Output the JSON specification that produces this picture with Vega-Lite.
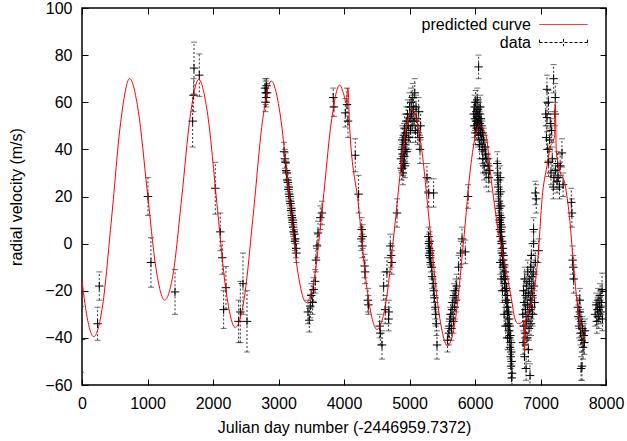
{
"$schema":"https://vega.github.io/schema/vega-lite/v6.json",
"width":524,"height":377,
"autosize":{"type":"none"},
"padding":{"left":82,"top":8,"right":21,"bottom":56},
"background":"white",
"config":{
 "font":"Liberation Sans",
 "view":{"stroke":"#000","strokeWidth":1.5},
 "axis":{"labelFont":"Liberation Sans","labelFontSize":16,"labelColor":"#000","titleFont":"Liberation Sans","titleFontSize":16,"titleFontWeight":"normal","titleColor":"#000","grid":false,"domain":false,"tickColor":"#000","tickSize":-6,"tickWidth":1,"labelFlush":false,"labelOverlap":false,"format":"d"},
 "legend":{"labelFont":"Liberation Sans","labelFontSize":16,"labelColor":"#000"}
},
"datasets":{
"curve":[
{"x":0,"y":-16},{"x":90,"y":-33},{"x":177,"y":-39.5},{"x":314,"y":-26.4},{"x":452,"y":10.9},{"x":590,"y":51.4},{"x":727,"y":70},{"x":860,"y":56.2},{"x":994,"y":23},{"x":1128,"y":-10.2},{"x":1261,"y":-24},{"x":1391,"y":-12.8},{"x":1521,"y":19.1},{"x":1651,"y":53.8},{"x":1781,"y":69.7},{"x":1921,"y":54.3},{"x":2060,"y":17},{"x":2200,"y":-20.2},{"x":2340,"y":-35.6},{"x":2478,"y":-23},{"x":2615,"y":12.5},{"x":2752,"y":51.2},{"x":2890,"y":69},{"x":3023,"y":55.3},{"x":3157,"y":22},{"x":3290,"y":-11.2},{"x":3424,"y":-25},{"x":3551,"y":-13.9},{"x":3678,"y":17.5},{"x":3806,"y":51.6},{"x":3933,"y":67.3},{"x":4000,"y":63},{"x":4030,"y":60},{"x":4061,"y":66},{"x":4085,"y":50},{"x":4218,"y":17},{"x":4361,"y":-21.2},{"x":4504,"y":-36.4},{"x":4638,"y":-25.2},{"x":4772,"y":6.6},{"x":4906,"y":41.1},{"x":5040,"y":57},{"x":5175,"y":42.3},{"x":5311,"y":6.8},{"x":5446,"y":-28.7},{"x":5582,"y":-43.4},{"x":5701,"y":-32.2},{"x":5821,"y":-0.4},{"x":5940,"y":34.1},{"x":6060,"y":50},{"x":6157,"y":47},{"x":6260,"y":24.4},{"x":6351,"y":6},{"x":6463,"y":-9.5},{"x":6565,"y":-25},{"x":6610,"y":-32},{"x":6660,"y":-34},{"x":6710,"y":-33.5},{"x":6742,"y":-33},{"x":6757,"y":-46},{"x":6770,"y":-33},{"x":6800,"y":-30},{"x":6860,"y":-25},{"x":6921,"y":-16.5},{"x":6971,"y":-2.4},{"x":7023,"y":18.8},{"x":7099,"y":33},{"x":7150,"y":41},{"x":7200,"y":44},{"x":7215,"y":46},{"x":7226,"y":59},{"x":7240,"y":40},{"x":7277,"y":33},{"x":7379,"y":24.4},{"x":7440,"y":12},{"x":7506,"y":-9.5},{"x":7582,"y":-30.7},{"x":7684,"y":-41.3}
],
"obs":[
{"x":-15,"y":-40.6,"e":14},{"x":238,"y":-34,"e":7},{"x":264,"y":-18,"e":6},
{"x":1007,"y":20,"e":8},{"x":1053,"y":-8,"e":10.5},{"x":1420,"y":-20.5,"e":9.5},
{"x":1689,"y":52,"e":11},{"x":1704,"y":63,"e":7},{"x":1710,"y":74.5,"e":11},{"x":1791,"y":71.5,"e":9},
{"x":2035,"y":23.5,"e":11},{"x":2111,"y":5,"e":8},{"x":2142,"y":-6,"e":7},{"x":2198,"y":-18.7,"e":9},{"x":2162,"y":-28,"e":8},
{"x":2391,"y":-33,"e":9},{"x":2417,"y":-29,"e":13},{"x":2458,"y":-17,"e":13},{"x":2519,"y":-33,"e":13},
{"x":2795,"y":66,"e":4},{"x":2805,"y":64,"e":5},{"x":2812,"y":62,"e":4},{"x":2800,"y":60,"e":4},{"x":2825,"y":64,"e":4},{"x":2818,"y":67,"e":3},
{"x":3085,"y":39,"e":4},{"x":3098,"y":36,"e":4},{"x":3107,"y":34.5,"e":4},{"x":3116,"y":31,"e":4},{"x":3125,"y":30,"e":4},{"x":3134,"y":27,"e":4},{"x":3143,"y":26,"e":4},{"x":3152,"y":23,"e":4},{"x":3157,"y":24,"e":4},{"x":3161,"y":21,"e":4},{"x":3170,"y":20,"e":4},{"x":3175,"y":18,"e":4},{"x":3184,"y":17,"e":4},{"x":3193,"y":14,"e":4},{"x":3197,"y":15,"e":4},{"x":3202,"y":12,"e":4},{"x":3206,"y":11,"e":4},{"x":3215,"y":9,"e":4},{"x":3220,"y":10,"e":4},{"x":3224,"y":7,"e":4},{"x":3233,"y":5,"e":4},{"x":3242,"y":4,"e":4},{"x":3251,"y":1,"e":4},{"x":3256,"y":2,"e":4},{"x":3269,"y":-2,"e":4},{"x":3274,"y":-4,"e":4},
{"x":3450,"y":-29,"e":5},{"x":3470,"y":-32.5,"e":5},{"x":3485,"y":-26.5,"e":5},{"x":3500,"y":-22,"e":5},{"x":3520,"y":-25,"e":5},{"x":3536,"y":-19.5,"e":5},{"x":3560,"y":-16,"e":5},{"x":3572,"y":-7,"e":5},{"x":3588,"y":-1,"e":5},{"x":3603,"y":4.5,"e":5},{"x":3638,"y":11,"e":5},{"x":3664,"y":13,"e":5},
{"x":3835,"y":62,"e":4},{"x":3845,"y":58,"e":4},{"x":4020,"y":55.5,"e":6},{"x":4046,"y":59,"e":7},{"x":4061,"y":52,"e":7},
{"x":4172,"y":37.5,"e":7},{"x":4223,"y":21,"e":8},{"x":4264,"y":2,"e":5},{"x":4270,"y":6,"e":5},{"x":4280,"y":-1,"e":5},{"x":4285,"y":3,"e":5},{"x":4315,"y":-9.5,"e":5},{"x":4322,"y":-12,"e":5},{"x":4366,"y":-24,"e":5},{"x":4372,"y":-26,"e":4},
{"x":4545,"y":-35,"e":5},{"x":4554,"y":-38,"e":5},{"x":4580,"y":-43,"e":6},{"x":4605,"y":-18,"e":6},{"x":4630,"y":-28,"e":6},{"x":4656,"y":-12,"e":6},{"x":4681,"y":-32,"e":5},{"x":4685,"y":-29,"e":5},{"x":4707,"y":-1,"e":5},{"x":4720,"y":-5,"e":5},{"x":4730,"y":-8,"e":5},{"x":4809,"y":13,"e":6},
{"x":4870,"y":36,"e":5},{"x":4880,"y":32,"e":5},{"x":4885,"y":40,"e":5},{"x":4890,"y":44,"e":6},{"x":4895,"y":38,"e":5},{"x":4900,"y":30,"e":5},{"x":4905,"y":34,"e":5},{"x":4910,"y":42,"e":5},{"x":4915,"y":46,"e":5},{"x":4920,"y":37,"e":5},{"x":4925,"y":49,"e":6},{"x":4930,"y":33,"e":5},{"x":4935,"y":40,"e":5},{"x":4940,"y":44,"e":5},{"x":4950,"y":52,"e":6},{"x":4955,"y":47,"e":5},{"x":4960,"y":39,"e":5},{"x":4970,"y":55,"e":6},{"x":4980,"y":50,"e":5},{"x":4990,"y":45,"e":5},{"x":5000,"y":58,"e":6},{"x":5010,"y":53,"e":5},{"x":5015,"y":48,"e":5},{"x":5025,"y":60,"e":6},{"x":5035,"y":55,"e":5},{"x":5040,"y":50,"e":5},{"x":5050,"y":62,"e":6},{"x":5060,"y":57,"e":5},{"x":5070,"y":52,"e":5},{"x":5080,"y":64,"e":6},{"x":5090,"y":48,"e":5},{"x":5100,"y":58,"e":5},{"x":5110,"y":53,"e":5},{"x":5125,"y":47,"e":5},{"x":5140,"y":56,"e":6},{"x":5150,"y":45,"e":5},{"x":5170,"y":50,"e":6},{"x":5160,"y":40,"e":6},
{"x":5267,"y":28,"e":6},{"x":5293,"y":21.5,"e":6},{"x":5368,"y":21.5,"e":6},
{"x":5290,"y":3,"e":4},{"x":5295,"y":0,"e":4},{"x":5300,"y":-2,"e":4},{"x":5305,"y":1,"e":4},{"x":5310,"y":-4,"e":4},{"x":5315,"y":-6,"e":4},{"x":5320,"y":-3,"e":4},{"x":5325,"y":-8,"e":4},{"x":5302,"y":-5,"e":4},{"x":5340,"y":-10,"e":5},{"x":5345,"y":-14,"e":5},{"x":5360,"y":-17,"e":5},{"x":5370,"y":-20,"e":5},{"x":5380,"y":-23,"e":5},{"x":5395,"y":-27,"e":5},{"x":5400,"y":-30,"e":5},{"x":5410,"y":-34,"e":5},{"x":5420,"y":-43,"e":6},
{"x":5580,"y":-41,"e":5},{"x":5600,"y":-38,"e":5},{"x":5610,"y":-35,"e":5},{"x":5620,"y":-32,"e":5},{"x":5630,"y":-30,"e":5},{"x":5640,"y":-36,"e":5},{"x":5650,"y":-28,"e":5},{"x":5660,"y":-25,"e":5},{"x":5670,"y":-33,"e":5},{"x":5680,"y":-22,"e":5},{"x":5690,"y":-27,"e":5},{"x":5700,"y":-20,"e":5},{"x":5710,"y":-24,"e":5},{"x":5720,"y":-18,"e":5},
{"x":5750,"y":-10,"e":5},{"x":5780,"y":-4,"e":5},{"x":5802,"y":2,"e":5},{"x":5852,"y":-3.5,"e":5},{"x":5893,"y":20,"e":5},
{"x":6055,"y":75,"e":5},
{"x":5980,"y":55,"e":5},{"x":5990,"y":50,"e":5},{"x":5995,"y":58,"e":5},{"x":6000,"y":53,"e":5},{"x":6005,"y":47,"e":5},{"x":6010,"y":60,"e":5},{"x":6015,"y":52,"e":5},{"x":6020,"y":56,"e":5},{"x":6025,"y":49,"e":5},{"x":6030,"y":54,"e":5},{"x":6035,"y":61,"e":5},{"x":6040,"y":51,"e":5},{"x":6045,"y":57,"e":5},{"x":6050,"y":46,"e":5},{"x":6057,"y":53,"e":5},{"x":6060,"y":49,"e":5},{"x":6065,"y":55,"e":5},{"x":6070,"y":42,"e":6},{"x":6075,"y":51,"e":5},{"x":6080,"y":58,"e":5},{"x":6085,"y":47,"e":5},{"x":6090,"y":53,"e":5},{"x":6095,"y":44,"e":5},{"x":6100,"y":50,"e":5},{"x":6110,"y":40,"e":6},{"x":6115,"y":47,"e":5},{"x":6120,"y":36,"e":6},{"x":6130,"y":44,"e":5},{"x":6140,"y":33,"e":6},{"x":6150,"y":41,"e":5},{"x":6160,"y":38,"e":5},{"x":6170,"y":30,"e":6},{"x":6180,"y":36,"e":5},{"x":6200,"y":33,"e":5},{"x":6210,"y":28,"e":6},{"x":6220,"y":31,"e":5},
{"x":6340,"y":34,"e":5},{"x":6345,"y":30,"e":5},{"x":6350,"y":27,"e":5},{"x":6355,"y":24,"e":5},{"x":6360,"y":21,"e":5},{"x":6365,"y":18,"e":5},{"x":6370,"y":15,"e":5},{"x":6375,"y":12,"e":5},{"x":6380,"y":9,"e":5},{"x":6385,"y":28,"e":5},{"x":6390,"y":22,"e":5},{"x":6395,"y":16,"e":5},{"x":6400,"y":11,"e":5},{"x":6405,"y":7,"e":5},
{"x":6373,"y":10,"e":5},{"x":6395,"y":8,"e":5},{"x":6380,"y":6,"e":5},{"x":6400,"y":5,"e":5},{"x":6390,"y":3,"e":5},{"x":6415,"y":1,"e":5},{"x":6405,"y":0,"e":5},{"x":6425,"y":-2,"e":5},{"x":6410,"y":-4,"e":5},{"x":6435,"y":-5,"e":5},{"x":6420,"y":-7,"e":5},{"x":6445,"y":-9,"e":5},{"x":6430,"y":-10,"e":5},{"x":6455,"y":-12,"e":5},{"x":6440,"y":-14,"e":5},{"x":6465,"y":-15,"e":5},{"x":6450,"y":-17,"e":5},{"x":6480,"y":-19,"e":5},{"x":6460,"y":-20,"e":5},{"x":6490,"y":-22,"e":5},{"x":6470,"y":-24,"e":5},{"x":6500,"y":-25,"e":5},{"x":6485,"y":-27,"e":5},{"x":6510,"y":-29,"e":5},{"x":6495,"y":-30,"e":5},{"x":6520,"y":-32,"e":5},{"x":6505,"y":-34,"e":5},{"x":6530,"y":-35,"e":5},{"x":6515,"y":-37,"e":5},{"x":6540,"y":-39,"e":5},{"x":6525,"y":-40,"e":5},{"x":6550,"y":-42,"e":5},{"x":6535,"y":-44,"e":5},{"x":6555,"y":-46,"e":5},{"x":6545,"y":-48,"e":5},{"x":6560,"y":-50,"e":5},{"x":6550,"y":-52,"e":5},{"x":6565,"y":-55,"e":5},{"x":6560,"y":-57,"e":5},{"x":6385,"y":-8,"e":5},{"x":6400,"y":-15,"e":5},{"x":6420,"y":-20,"e":5},{"x":6445,"y":-30,"e":5},{"x":6470,"y":-35,"e":5},{"x":6495,"y":-40,"e":5},
{"x":6730,"y":-30,"e":5},{"x":6735,"y":-42,"e":5},{"x":6740,"y":-20,"e":5},{"x":6745,"y":-35,"e":5},{"x":6750,"y":-25,"e":5},{"x":6755,"y":-48,"e":5},{"x":6760,"y":-15,"e":5},{"x":6765,"y":-38,"e":5},{"x":6770,"y":-28,"e":5},{"x":6775,"y":-22,"e":5},{"x":6780,"y":-53,"e":5},{"x":6785,"y":-33,"e":5},{"x":6790,"y":-18,"e":5},{"x":6795,"y":-40,"e":5},{"x":6800,"y":-26,"e":5},{"x":6805,"y":-12,"e":5},{"x":6810,"y":-31,"e":5},{"x":6815,"y":-45,"e":5},{"x":6820,"y":-21,"e":5},{"x":6825,"y":-36,"e":5},{"x":6830,"y":-16,"e":5},{"x":6835,"y":-28,"e":5},{"x":6840,"y":-56,"e":5},{"x":6845,"y":-24,"e":5},{"x":6850,"y":-10,"e":5},{"x":6855,"y":-34,"e":5},{"x":6860,"y":-19,"e":5},{"x":6865,"y":-27,"e":5},{"x":6870,"y":-14,"e":5},{"x":6875,"y":-22,"e":5},{"x":6880,"y":-30,"e":5},{"x":6890,"y":-12,"e":5},{"x":6900,"y":-18,"e":5},{"x":6910,"y":-25,"e":5},{"x":6920,"y":-8,"e":5},
{"x":6921,"y":21.5,"e":5},{"x":6935,"y":19,"e":6},{"x":6895,"y":6,"e":5},{"x":6971,"y":-3,"e":5},{"x":6860,"y":-5,"e":5},{"x":6895,"y":0,"e":5},
{"x":7200,"y":70,"e":6},{"x":7099,"y":65.5,"e":6},{"x":7226,"y":62,"e":6},{"x":7080,"y":55,"e":5},{"x":7099,"y":53.5,"e":6},{"x":7150,"y":51,"e":5},{"x":7170,"y":48,"e":5},{"x":7124,"y":34.5,"e":6},{"x":7110,"y":40,"e":5},{"x":7140,"y":44,"e":5},{"x":7160,"y":30,"e":5},{"x":7205,"y":28,"e":5},{"x":7252,"y":26.5,"e":5},{"x":7328,"y":38.5,"e":6},{"x":7300,"y":33,"e":5},{"x":7195,"y":24,"e":5},{"x":7345,"y":25,"e":5},{"x":7180,"y":36,"e":5},{"x":7230,"y":31,"e":5},{"x":7260,"y":34,"e":5},{"x":7090,"y":45,"e":5},{"x":7120,"y":60,"e":5},{"x":7220,"y":55,"e":5},{"x":7270,"y":28,"e":5},{"x":7290,"y":24,"e":5},
{"x":7470,"y":17.5,"e":6},{"x":7480,"y":13,"e":6},{"x":7490,"y":-7,"e":6},{"x":7506,"y":-15,"e":6},{"x":7500,"y":-10,"e":5},
{"x":7570,"y":-27,"e":5},{"x":7580,"y":-31,"e":5},{"x":7590,"y":-35,"e":5},{"x":7600,"y":-29,"e":5},{"x":7610,"y":-38,"e":5},{"x":7620,"y":-33,"e":5},{"x":7630,"y":-41,"e":5},{"x":7640,"y":-36,"e":5},{"x":7650,"y":-44,"e":5},{"x":7660,"y":-39,"e":5},{"x":7670,"y":-42,"e":5},{"x":7634,"y":-52,"e":6},{"x":7620,"y":-53,"e":5},{"x":7600,"y":-24,"e":5},{"x":7680,"y":-37,"e":5},
{"x":7835,"y":-30,"e":5},{"x":7850,"y":-26,"e":5},{"x":7860,"y":-33,"e":5},{"x":7870,"y":-28,"e":5},{"x":7880,"y":-24,"e":5},{"x":7890,"y":-31,"e":5},{"x":7900,"y":-27,"e":5},{"x":7910,"y":-22,"e":5},{"x":7920,"y":-29,"e":5},{"x":7930,"y":-25,"e":5},{"x":7940,"y":-19.5,"e":7},{"x":7945,"y":-32,"e":5}
]
},
"resolve":{"axis":{"x":"independent","y":"independent"}},
"layer":[
{"data":{"name":"obs"},
 "mark":{"type":"errorbar","color":"#333","clip":true,"ticks":{"size":6,"thickness":1},"rule":{"strokeDash":[2,2],"strokeWidth":1}},
 "encoding":{
  "x":{"field":"x","type":"quantitative","scale":{"domain":[0,8000],"nice":false,"zero":false},"axis":null},
  "y":{"field":"y","type":"quantitative","scale":{"domain":[-60,100],"nice":false,"zero":false},"axis":null},
  "yError":{"field":"e"}}},
{"data":{"name":"obs"},
 "mark":{"type":"point","shape":"M-1,0H1M0,-1V1","size":72,"strokeWidth":1,"filled":false,"opacity":1,"clip":true},
 "encoding":{
  "x":{"field":"x","type":"quantitative","scale":{"domain":[0,8000],"nice":false,"zero":false},"axis":{"orient":"bottom","values":[0,1000,2000,3000,4000,5000,6000,7000,8000],"title":"Julian day number (-2446959.7372)","labelPadding":16,"titlePadding":8}},
  "y":{"field":"y","type":"quantitative","scale":{"domain":[-60,100],"nice":false,"zero":false},"axis":{"orient":"left","values":[-60,-40,-20,0,20,40,60,80,100],"title":"radial velocity (m/s)","labelPadding":16,"titlePadding":20}},
  "color":{"datum":"data","type":"nominal","scale":{"domain":["predicted curve","data"],"range":["#ff0000","#000000"]},
   "legend":{"title":null,"orient":"none","legendX":323,"legendY":8,"padding":0,"offset":0,"symbolType":"M-3,0H3","symbolSize":256,"symbolOffset":150,"labelOffset":-41,"labelAlign":"right","labelBaseline":"middle","rowPadding":1,"symbolStrokeWidth":1,
    "encode":{"symbols":{"update":{"shape":{"signal":"datum.value === 'data' ? 'M-3,0H3M-3,-0.35V0.35M3,-0.35V0.35M0,-0.45V0.45' : 'M-3,0H3'"},"stroke":{"signal":"datum.value === 'data' ? '#000' : '#ff0000'"},"fill":{"value":"transparent"},"strokeDash":{"signal":"datum.value === 'data' ? [3,2] : [1,0]"},"opacity":{"value":1}}}}}}}},
{"data":{"name":"curve"},
 "mark":{"type":"line","interpolate":"monotone","strokeWidth":1,"clip":true},
 "encoding":{
  "x":{"field":"x","type":"quantitative","scale":{"domain":[0,8000],"nice":false,"zero":false},"axis":{"orient":"top","values":[0,1000,2000,3000,4000,5000,6000,7000,8000],"labels":false,"title":null}},
  "y":{"field":"y","type":"quantitative","scale":{"domain":[-60,100],"nice":false,"zero":false},"axis":{"orient":"right","values":[-60,-40,-20,0,20,40,60,80,100],"labels":false,"title":null}},
  "color":{"datum":"predicted curve","type":"nominal",
   "legend":{"title":null,"orient":"none","legendX":323,"legendY":8,"padding":0,"offset":0,"symbolType":"M-3,0H3","symbolSize":256,"symbolOffset":150,"labelOffset":-41,"labelAlign":"right","labelBaseline":"middle","rowPadding":1,"symbolStrokeWidth":1,
    "encode":{"symbols":{"update":{"shape":{"signal":"datum.value === 'data' ? 'M-3,0H3M-3,-0.35V0.35M3,-0.35V0.35M0,-0.45V0.45' : 'M-3,0H3'"},"stroke":{"signal":"datum.value === 'data' ? '#000' : '#ff0000'"},"fill":{"value":"transparent"},"strokeDash":{"signal":"datum.value === 'data' ? [3,2] : [1,0]"},"opacity":{"value":1}}}}}}}}
]
}
